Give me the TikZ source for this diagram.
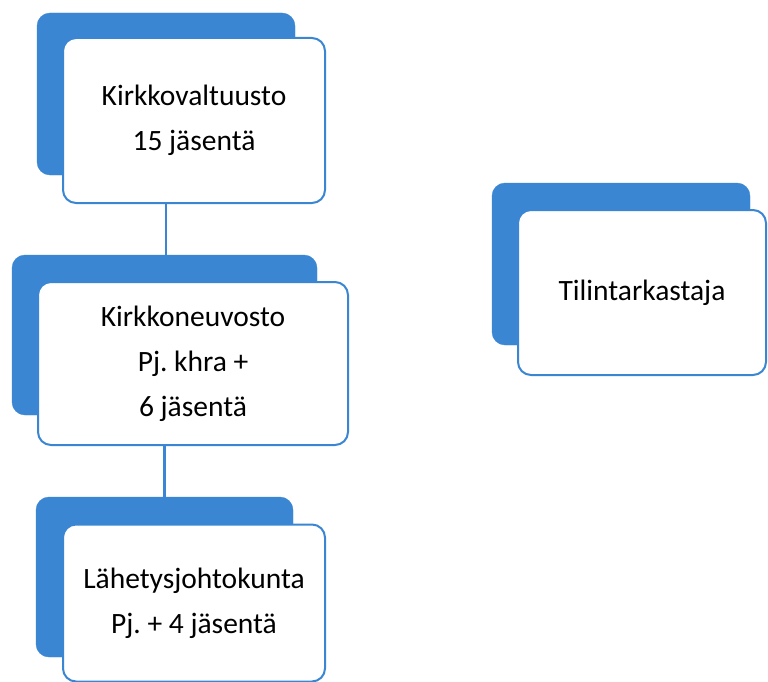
\documentclass[tikz,border=0pt]{standalone}
\usepackage{fontspec}
\setmainfont{Carlito}
\frenchspacing
\definecolor{cardblue}{RGB}{58,134,210}

\begin{document}
\begin{tikzpicture}[x=1pt, y=-1pt,
    back/.style = {fill=cardblue, draw=cardblue, rounded corners=13pt, inner sep=0pt},
    front/.style = {fill=white, draw=cardblue, line width=2pt, rounded corners=13pt,
        align=center, inner sep=0pt, font=\fontsize{29.5}{45}\selectfont},
    link/.style = {draw=cardblue, line width=2.2pt}]
    \useasboundingbox (0,0) rectangle (768,682);
    % back cards
    \node[back, minimum width=258pt, minimum height=162pt] (vb) at (166,94) {};
    \node[back, minimum width=305pt, minimum height=160pt] (nb) at (164.5,335) {};
    \node[back, minimum width=257pt, minimum height=160pt] (lb) at (164.5,577) {};
    \node[back, minimum width=258pt, minimum height=162pt] (tb) at (621,264) {};
    % lines
    \draw[link] (vb.south) -- (vb.south |- nb.north);
    \draw[link] (nb.south) -- (nb.south |- lb.north);
    % front cards
    \node[front, minimum width=262pt, minimum height=165pt] (valtuusto) at (194,120.5) {Kirkkovaltuusto\\15 jäsentä};
    \node[front, minimum width=310pt, minimum height=163pt] (neuvosto) at (193,363.5) {Kirkkoneuvosto\\Pj. khra +\\6 jäsentä};
    \node[front, minimum width=262pt, minimum height=157pt] (johtokunta) at (194,603) {Lähetysjohtokunta\\Pj. + 4 jäsentä};
    \node[front, minimum width=248pt, minimum height=165pt] (tilintarkastaja) at (642,292.5) {Tilintarkastaja};
\end{tikzpicture}
\end{document}
